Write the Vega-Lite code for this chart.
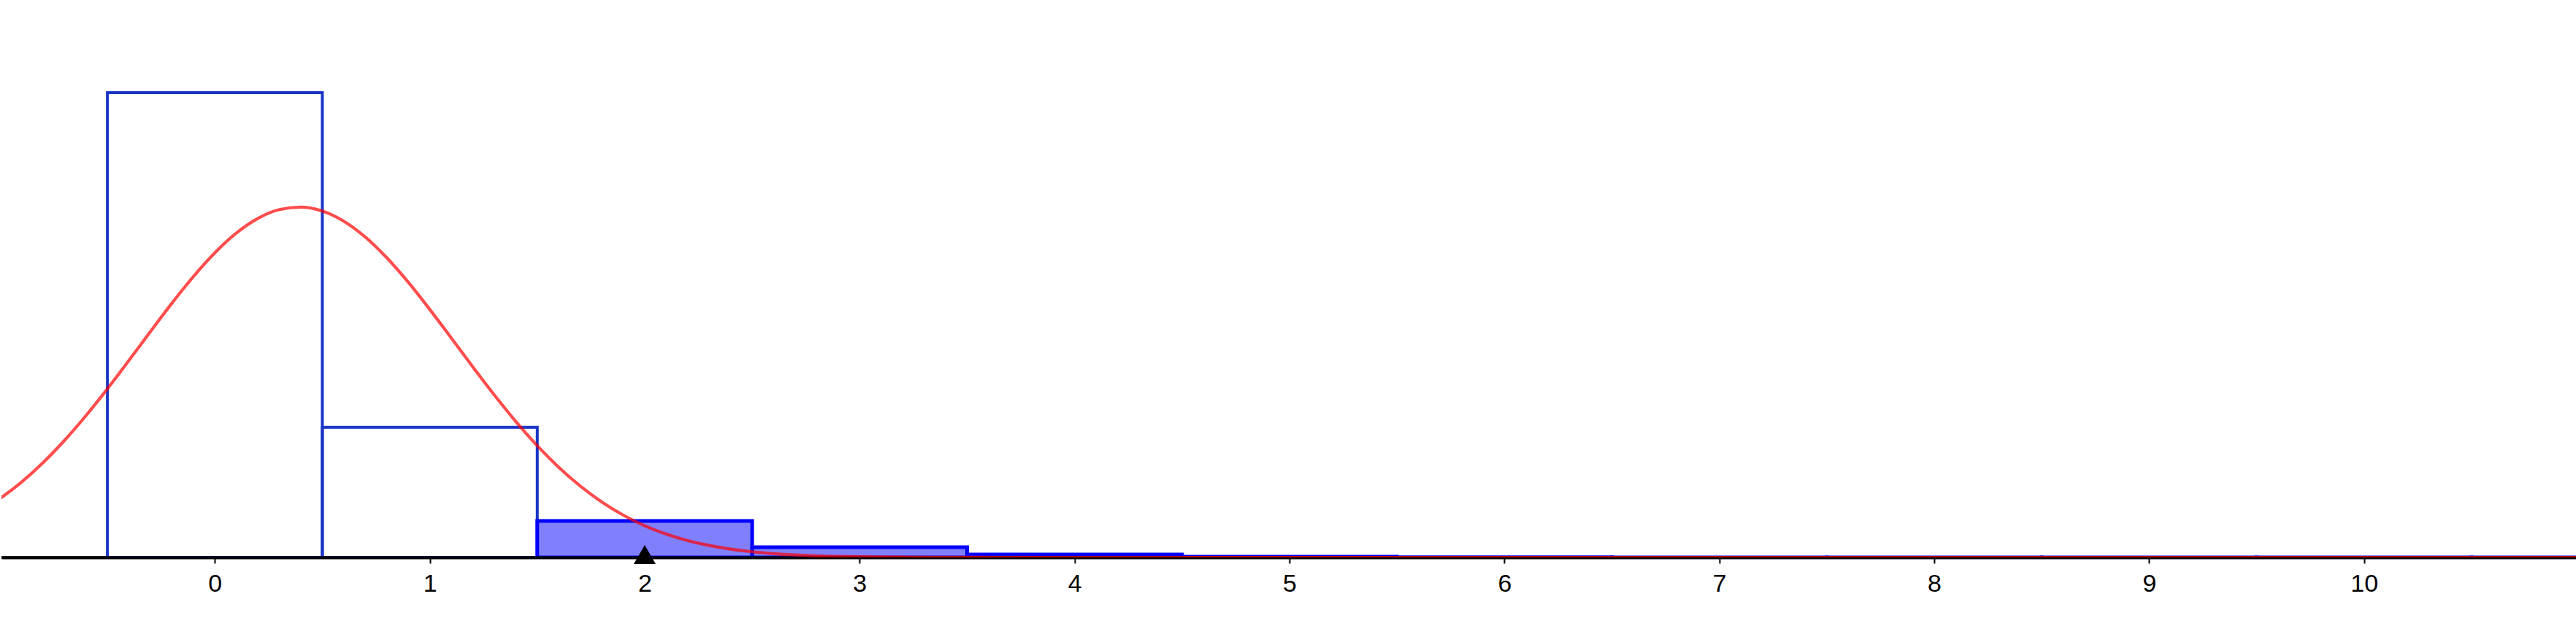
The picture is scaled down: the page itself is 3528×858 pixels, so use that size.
{
  "$schema": "https://vega.github.io/schema/vega-lite/v6.json",
  "width": 3528,
  "height": 764,
  "padding": 0,
  "autosize": {"type": "pad"},
  "background": "white",
  "config": {"view": {"stroke": null}},
  "datasets": {
    "bars": [
      {"k": 0, "lo": -0.5, "hi": 0.5, "p": 0.72},
      {"k": 1, "lo": 0.5, "hi": 1.5, "p": 0.2016},
      {"k": 2, "lo": 1.5, "hi": 2.5, "p": 0.056448},
      {"k": 3, "lo": 2.5, "hi": 3.5, "p": 0.0158054},
      {"k": 4, "lo": 3.5, "hi": 4.5, "p": 0.0044255},
      {"k": 5, "lo": 4.5, "hi": 5.5, "p": 0.0012392},
      {"k": 6, "lo": 5.5, "hi": 6.5, "p": 0.000347},
      {"k": 7, "lo": 6.5, "hi": 7.5, "p": 0.0000971},
      {"k": 8, "lo": 7.5, "hi": 8.5, "p": 0.0000272},
      {"k": 9, "lo": 8.5, "hi": 9.5, "p": 0.0000076},
      {"k": 10, "lo": 9.5, "hi": 10.5, "p": 0.0000021},
      {"k": 11, "lo": 10.5, "hi": 11.5, "p": 0.0000006}
    ],
    "curve": [
      {"x": -1.0, "y": 0.09101}, {"x": -0.9, "y": 0.11664}, {"x": -0.8, "y": 0.14670},
      {"x": -0.7, "y": 0.18113}, {"x": -0.6, "y": 0.21955}, {"x": -0.5, "y": 0.26122},
      {"x": -0.4, "y": 0.30512}, {"x": -0.3, "y": 0.34985}, {"x": -0.2, "y": 0.39378},
      {"x": -0.1, "y": 0.43508}, {"x": 0.0, "y": 0.47192}, {"x": 0.1, "y": 0.50247},
      {"x": 0.2, "y": 0.52519}, {"x": 0.3, "y": 0.53887}, {"x": 0.4, "y": 0.54277},
      {"x": 0.5, "y": 0.53666}, {"x": 0.6, "y": 0.52089}, {"x": 0.7, "y": 0.49632},
      {"x": 0.8, "y": 0.46422}, {"x": 0.9, "y": 0.42624}, {"x": 1.0, "y": 0.38418},
      {"x": 1.1, "y": 0.33993}, {"x": 1.2, "y": 0.29525}, {"x": 1.3, "y": 0.25174},
      {"x": 1.4, "y": 0.21070}, {"x": 1.5, "y": 0.17313}, {"x": 1.6, "y": 0.13965},
      {"x": 1.7, "y": 0.11057}, {"x": 1.8, "y": 0.08593}, {"x": 1.9, "y": 0.06557},
      {"x": 2.0, "y": 0.04910}, {"x": 2.1, "y": 0.03610}, {"x": 2.2, "y": 0.02606},
      {"x": 2.3, "y": 0.01846}, {"x": 2.4, "y": 0.01284}, {"x": 2.5, "y": 0.00877},
      {"x": 2.6, "y": 0.00588}, {"x": 2.7, "y": 0.00387}, {"x": 2.8, "y": 0.00250},
      {"x": 2.9, "y": 0.00158}, {"x": 3.0, "y": 0.00098}, {"x": 3.2, "y": 0.00036},
      {"x": 3.5, "y": 0.00007}, {"x": 4.0, "y": 0.00001}, {"x": 5.0, "y": 0.0},
      {"x": 11.0, "y": 0.0}
    ],
    "marker": [{"x": 2}]
  },
  "layer": [
    {
      "data": {"name": "bars"},
      "transform": [{"filter": "datum.k < 2"}],
      "mark": {"type": "rect", "fill": null, "fillOpacity": 0, "stroke": "#1a35c8", "strokeWidth": 4, "clip": true},
      "encoding": {
        "x": {"field": "lo", "type": "quantitative", "title": null,
              "scale": {"domain": [-0.993, 10.993], "nice": false, "zero": false},
              "axis": {"values": [0,1,2,3,4,5,6,7,8,9,10], "format": "d", "grid": false,
                       "labelFont": "Liberation Sans", "labelFontSize": 34, "labelColor": "black",
                       "labelPadding": 11, "tickColor": "black", "tickWidth": 2, "tickSize": 8,
                       "domainColor": "black", "domainWidth": 4, "labelFlush": false, "labelOverlap": false}},
        "x2": {"field": "hi"},
        "y": {"field": "p", "type": "quantitative", "title": null,
              "scale": {"domain": [0, 0.8636], "nice": false, "zero": true}, "axis": null},
        "y2": {"datum": 0}
      }
    },
    {
      "data": {"name": "bars"},
      "transform": [{"filter": "datum.k >= 2"}],
      "mark": {"type": "rect", "fill": "#8080ff", "fillOpacity": 1, "stroke": "#0000ff", "strokeWidth": 5, "clip": true},
      "encoding": {
        "x": {"field": "lo", "type": "quantitative", "title": null},
        "x2": {"field": "hi"},
        "y": {"field": "p", "type": "quantitative", "title": null},
        "y2": {"datum": 0}
      }
    },
    {
      "data": {"values": [{"y": 0}]},
      "mark": {"type": "rule", "color": "black", "strokeWidth": 4, "opacity": 0.75},
      "encoding": {"y": {"field": "y", "type": "quantitative"}}
    },
    {
      "data": {"name": "curve"},
      "mark": {"type": "line", "color": "#ff0000", "strokeWidth": 4.2, "strokeOpacity": 0.7, "interpolate": "monotone", "clip": true},
      "encoding": {
        "x": {"field": "x", "type": "quantitative", "title": null},
        "y": {"field": "y", "type": "quantitative", "title": null}
      }
    },
    {
      "data": {"name": "marker"},
      "mark": {"type": "point", "shape": "triangle-up", "size": 900, "filled": true, "color": "black", "opacity": 1, "yOffset": -4},
      "encoding": {
        "x": {"field": "x", "type": "quantitative", "title": null},
        "y": {"datum": 0}
      }
    }
  ]
}
